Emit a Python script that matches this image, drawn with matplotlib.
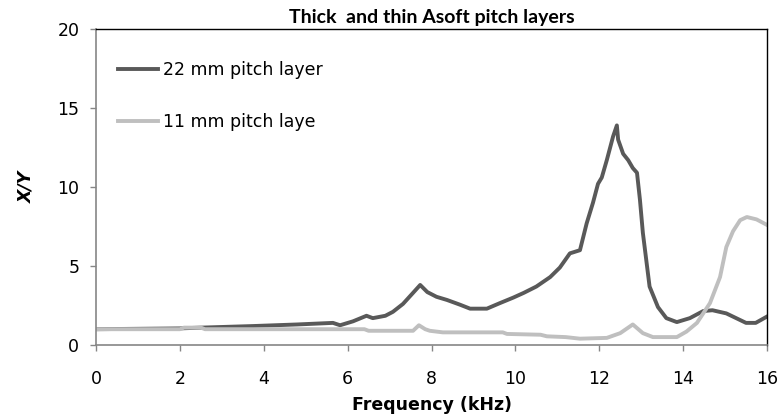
import matplotlib
matplotlib.use("Agg")
import matplotlib.pyplot as plt

# Values
freq_22 = [0.0, 2.0, 2.5, 3.75, 4.8, 5.65, 5.82, 6.13, 6.45, 6.6, 6.9, 7.08, 7.32,
           7.56, 7.73, 7.9, 8.12, 8.37, 8.68, 8.92, 9.32, 9.63, 9.95, 10.2,
           10.5, 10.83, 11.06, 11.3, 11.54, 11.7, 11.85, 11.97, 12.06, 12.18,
           12.33, 12.42, 12.45, 12.57, 12.69, 12.8, 12.9, 12.97, 13.04, 13.2,
           13.4, 13.6, 13.85, 14.16, 14.48, 14.7, 15.03, 15.5, 15.73, 16.0]
xy_22 = [1.0, 1.05, 1.1, 1.2, 1.3, 1.4, 1.25, 1.5, 1.85, 1.7, 1.85, 2.1, 2.6,
         3.3, 3.8, 3.35, 3.05, 2.85, 2.55, 2.3, 2.3, 2.65, 3.0, 3.3,
         3.7, 4.3, 4.9, 5.8, 6.0, 7.7, 9.0, 10.2, 10.6, 11.7,
         13.2, 13.9, 13.0, 12.1, 11.7, 11.2, 10.9, 9.2, 7.1, 3.7,
         2.4, 1.7, 1.45, 1.7, 2.15, 2.2, 2.0, 1.4, 1.4, 1.8]

freq_11 = [0.0, 2.0, 2.1, 2.5, 2.6, 6.4, 6.5, 7.56, 7.7, 7.85, 7.96, 8.27, 9.7,
           9.8, 10.6, 10.75, 11.2, 11.54, 12.18, 12.5, 12.8, 13.04, 13.28,
           13.85, 14.08, 14.33, 14.64, 14.88, 15.03, 15.19, 15.36, 15.52,
           15.75, 16.0]
xy_11 = [1.0, 1.0, 1.1, 1.1, 1.0, 1.0, 0.9, 0.9, 1.25, 1.0, 0.9, 0.8, 0.8,
         0.7, 0.65, 0.55, 0.5, 0.4, 0.45, 0.75, 1.3, 0.75, 0.5,
         0.5, 0.85, 1.4, 2.65, 4.3, 6.2, 7.2, 7.9, 8.1,
         7.95, 7.6]

x_ticks = [0, 2, 4, 6, 8, 10, 12, 14, 16]
y_ticks = [0, 5, 10, 15, 20]

plt.rcParams['font.family'] = ['DejaVu Sans']

fig = plt.figure(figsize=(7.81, 4.16), dpi=100)
ax = fig.add_axes([96 / 781, 1 - 345 / 416, (767 - 96) / 781, (345 - 29) / 416])

ax.plot(freq_22, xy_22, color='#595959', lw=2.8, label='22 mm pitch layer')
ax.plot(freq_11, xy_11, color='#BFBFBF', lw=2.8, label='11 mm pitch laye')

ax.set_xlim(0, 16)
ax.set_ylim(0, 20)
ax.set_xticks(x_ticks)
ax.set_yticks(y_ticks)
ax.tick_params(direction='out', length=4, width=1, color='#868686',
               labelsize=12.5)
ax.tick_params(axis='x', pad=14)
ax.tick_params(axis='y', pad=8)

for side in ['left', 'bottom']:
    ax.spines[side].set_color('#868686')
    ax.spines[side].set_linewidth(1.2)
for side in ['top', 'right']:
    ax.spines[side].set_color('black')
    ax.spines[side].set_linewidth(1.0)

ax.set_title('Thick  and thin Asoft pitch layers', fontsize=14,
             fontweight='bold', family=['Lato', 'DejaVu Sans'], pad=4)
ax.set_xlabel('Frequency (kHz)', fontsize=12.5, fontweight='bold', labelpad=6)
ax.set_ylabel('X/Y', fontsize=12.5, fontweight='bold', style='italic', labelpad=16)

ax.legend(loc='upper left', frameon=False, fontsize=12.5, handlelength=2.3,
          handletextpad=0.3, labelspacing=1.95, bbox_to_anchor=(0.01, 0.948))

fig.savefig('out.png', dpi=100)
